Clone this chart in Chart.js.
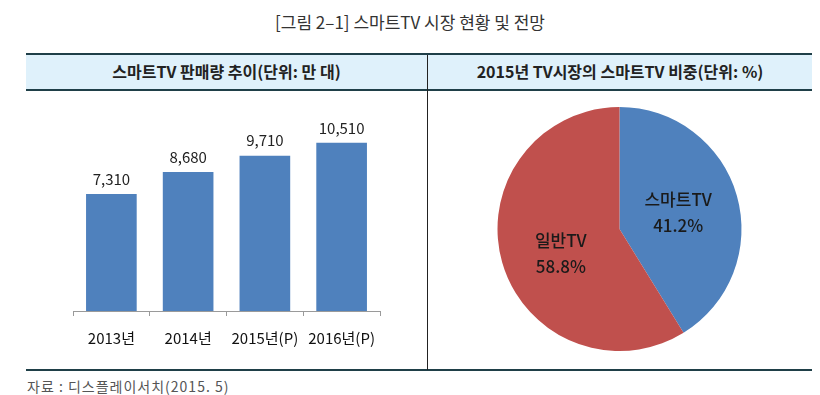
<!DOCTYPE html>
<html>
<head>
<meta charset="utf-8">
<script src="https://cdn.jsdelivr.net/npm/chart.js@4.4.0/dist/chart.umd.min.js"></script>
<style>
  body { margin: 0; width: 820px; height: 395px; background: #fff; position: relative; overflow: hidden;
         font-family: "Noto Sans CJK KR", "Noto Sans", sans-serif; }
  .title { position: absolute; left: 0; top: 10px; width: 820px; text-align: center; font-size: 17px; color: #333; line-height: 24px; }
  .frame { position: absolute; left: 26px; top: 53px; width: 786px; height: 318px;
           border-top: 2px solid #1f3f48; border-bottom: 2px solid #1f3f48; box-sizing: border-box; }
  .head { position: absolute; top: 55px; height: 34px; background: #dff1fb; border-bottom: 2px solid #1f3f48;
          font-size: 16px; font-weight: bold; color: #222; text-align: center; line-height: 33px; box-sizing: content-box; }
  .divider { position: absolute; left: 427px; top: 55px; width: 1px; height: 315px; background: #222; }
  .source { position: absolute; left: 27px; top: 376px; font-size: 14px; letter-spacing: 1px; color: #555; line-height: 20px; }
  canvas { position: absolute; }
</style>
</head>
<body>
<div class="title">[그림 2–1] 스마트TV 시장 현황 및 전망</div>
<div class="frame"></div>
<div class="head" style="left:26px;width:401px;">스마트TV 판매량 추이(단위: 만 대)</div>
<div class="head" style="left:428px;width:384px;">2015년 TV시장의 스마트TV 비중(단위: %)</div>
<div class="divider"></div>
<div style="position:absolute;left:26px;top:90px;width:401px;height:281px;">
  <canvas id="barChart"></canvas>
</div>
<div style="position:absolute;left:428px;top:90px;width:384px;height:281px;">
  <canvas id="pieChart"></canvas>
</div>
<div class="source">자료 : 디스플레이서치(2015. 5)</div>

<script>
const years = ["2013년", "2014년", "2015년(P)", "2016년(P)"];
const sales = [7310, 8680, 9710, 10510];

const shareLabels = ["스마트TV", "일반TV"];
const share = [41.2, 58.8];

const font = "'Noto Sans CJK KR', 'Noto Sans', sans-serif";

// value labels above the bars
const barValues = {
  id: "barValues",
  afterDatasetsDraw(chart) {
    const ctx = chart.ctx;
    ctx.save();
    ctx.font = "15px " + font;
    ctx.fillStyle = "#222";
    ctx.textAlign = "center";
    ctx.textBaseline = "middle";
    chart.getDatasetMeta(0).data.forEach((bar, i) => {
      ctx.fillText(sales[i].toLocaleString("en-US"), bar.x, bar.y - 15);
    });
    ctx.restore();
  },
};

// name + percent inside the slices
const pieLabels = {
  id: "pieLabels",
  afterDatasetsDraw(chart) {
    const ctx = chart.ctx;
    ctx.save();
    ctx.font = "500 17px " + font;
    ctx.fillStyle = "#1a1a1a";
    ctx.textAlign = "center";
    ctx.textBaseline = "middle";
    chart.getDatasetMeta(0).data.forEach((arc, i) => {
      const p = arc.getProps(["x", "y", "startAngle", "endAngle", "outerRadius"], true);
      const mid = (p.startAngle + p.endAngle) / 2;
      const r = p.outerRadius * 0.5;
      const x = p.x + Math.cos(mid) * r;
      const y = p.y + Math.sin(mid) * r + (i === 1 ? 8 : 0);
      ctx.fillText(shareLabels[i], x, y - 13);
      ctx.fillText(share[i].toFixed(1) + "%", x, y + 13);
    });
    ctx.restore();
  },
};

new Chart(document.getElementById("barChart"), {
  type: "bar",
  data: {
    labels: years,
    datasets: [
      {
        data: sales,
        backgroundColor: "#4f81bd",
        barPercentage: 0.66,
        categoryPercentage: 1,
      },
    ],
  },
  options: {
    responsive: true,
    maintainAspectRatio: false,
    animation: false,
    layout: { padding: { left: 47, right: 47, top: 29, bottom: 24 } },
    plugins: { legend: { display: false }, tooltip: { enabled: false } },
    scales: {
      x: {
        afterFit: (s) => { s.height = 36; },
        grid: { display: true, drawOnChartArea: false, offset: true, tickLength: 5, color: "#9a9a9a" },
        border: { color: "#9a9a9a" },
        ticks: { padding: 13, color: "#111", font: { family: font, size: 15 } },
      },
      y: {
        display: false,
        min: 0,
        max: 12000,
      },
    },
  },
  plugins: [barValues],
});

new Chart(document.getElementById("pieChart"), {
  type: "pie",
  data: {
    labels: shareLabels,
    datasets: [
      {
        data: share,
        backgroundColor: ["#4f81bd", "#c0504d"],
        borderWidth: 0,
      },
    ],
  },
  options: {
    responsive: true,
    maintainAspectRatio: false,
    animation: false,
    layout: { padding: { left: 69.5, right: 70.5, top: 17, bottom: 20 } },
    plugins: { legend: { display: false }, tooltip: { enabled: false } },
  },
  plugins: [pieLabels],
});
</script>
</body>
</html>
